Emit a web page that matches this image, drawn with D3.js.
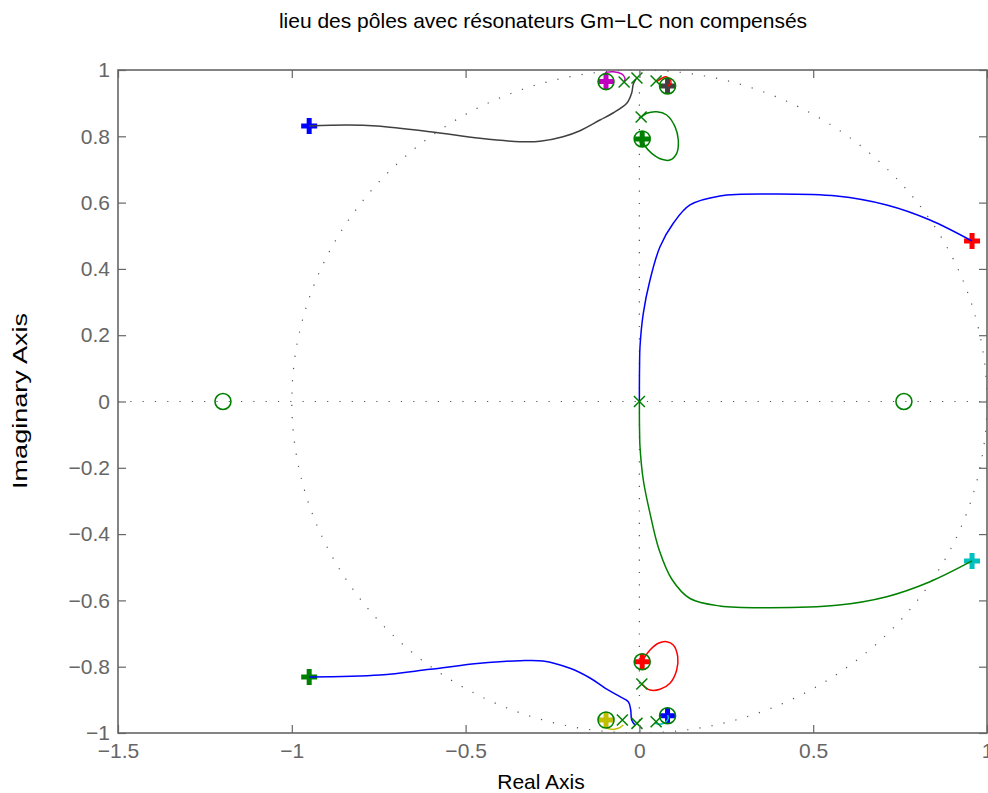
<!DOCTYPE html>
<html>
<head>
<meta charset="utf-8">
<script src="https://cdn.jsdelivr.net/npm/d3@7"></script>
<style>
  html, body { margin: 0; padding: 0; background: #fff; }
  svg { display: block; font-family: "Liberation Sans", Arial, Helvetica, sans-serif; }
</style>
</head>
<body>
<svg id="chart" width="988" height="793"></svg>
<script>
// ---------- data ----------
const titleText = "lieu des pôles avec résonateurs Gm−LC non compensés";
const xLabelText = "Real Axis";
const yLabelText = "Imaginary Axis";

const xTicks = [-1.5, -1, -0.5, 0, 0.5, 1];
const xTickLabels = ["−1.5", "−1", "−0.5", "0", "0.5", "1"];
const yTicks = [-1, -0.8, -0.6, -0.4, -0.2, 0, 0.2, 0.4, 0.6, 0.8, 1];
const yTickLabels = ["−1", "−0.8", "−0.6", "−0.4", "−0.2", "0", "0.2", "0.4", "0.6", "0.8", "1"];

// open-loop poles (x)
const polesRe = [0, -0.044, -0.007, 0.048, 0.005, -0.049, -0.007, 0.048, 0.007];
const polesIm = [0, 0.964, 0.976, 0.967, 0.858, -0.961, -0.971, -0.966, -0.852];

// zeros (o)
const zerosRe = [-1.198, 0.761, -0.096, 0.081, 0.008, -0.096, 0.081, 0.008];
const zerosIm = [0, 0, 0.965, 0.952, 0.792, -0.961, -0.948, -0.785];

// current-gain closed-loop poles (+)
const gainRe = [-0.950, -0.950, 0.957, 0.957, -0.096, 0.081, 0.008, 0.008, -0.096, 0.081];
const gainIm = [0.831, -0.831, 0.484, -0.481, 0.965, 0.952, 0.792, -0.785, -0.961, -0.948];
const gainColors = ["#0000ff", "#008000", "#ff0000", "#00bfbf", "#bf00bf", "#404040", "#008000", "#ff0000", "#bfbf00", "#0000ff"];

// locus branches
const branchBlueTopRe = [0, 0, 0.0005, 0.0017, 0.0112, 0.0305, 0.0593, 0.0975, 0.1456, 0.2319, 0.3757, 0.5676, 0.7115, 0.8360, 0.957];
const branchBlueTopIm = [0, 0.05, 0.11, 0.1653, 0.2661, 0.3665, 0.4670, 0.5376, 0.5928, 0.6199, 0.6259, 0.6199, 0.5928, 0.5475, 0.484];

const branchGreenBotRe = [0, 0, 0.0005, 0.0017, 0.0112, 0.0305, 0.0564, 0.0938, 0.1456, 0.2319, 0.3757, 0.5676, 0.7115, 0.8360, 0.957];
const branchGreenBotIm = [0, -0.05, -0.09, -0.1364, -0.2368, -0.3373, -0.4465, -0.5370, -0.5943, -0.6169, -0.6220, -0.6148, -0.5888, -0.5436, -0.481];

const branchGrayRe = [-0.950, -0.8412, -0.7549, -0.6024, -0.4586, -0.3435, -0.2860, -0.2198, -0.1709, -0.1134, -0.0759, -0.0357, -0.0222, -0.0175, -0.0098];
const branchGrayIm = [0.831, 0.8341, 0.8311, 0.8139, 0.7940, 0.7837, 0.7849, 0.7988, 0.8169, 0.8492, 0.8703, 0.9005, 0.9306, 0.9578, 0.9729];

const branchBlueBotRe = [-0.950, -0.7463, -0.6024, -0.4586, -0.3435, -0.2773, -0.1997, -0.1421, -0.0990, -0.0558, -0.0319, -0.0250, -0.0222, -0.0127];
const branchBlueBotIm = [-0.831, -0.8250, -0.8079, -0.7898, -0.7819, -0.7828, -0.8048, -0.8341, -0.8643, -0.8905, -0.9056, -0.9306, -0.9608, -0.9759];

const loopGreenRe = [0.0046, 0.0210, 0.0498, 0.0785, 0.1024, 0.1119, 0.1073, 0.0880, 0.0642, 0.0354, 0.0161, 0.0075];
const loopGreenIm = [0.8573, 0.8694, 0.8742, 0.8643, 0.8290, 0.7888, 0.7487, 0.7285, 0.7306, 0.7487, 0.7707, 0.7919];

const loopRedRe = [0.0066, 0.0305, 0.0593, 0.0880, 0.1073, 0.1102, 0.0975, 0.0785, 0.0544, 0.0305, 0.0161, 0.0075];
const loopRedIm = [-0.8522, -0.8703, -0.8682, -0.8501, -0.8100, -0.7698, -0.7345, -0.7246, -0.7294, -0.7496, -0.7698, -0.7858];

const arcMagentaRe = [-0.044, -0.0414, -0.0509, -0.0751, -0.0990, -0.096];
const arcMagentaIm = [0.964, 0.975, 0.988, 0.9949, 0.990, 0.966];

const arcRedTopRe = [0.0498, 0.0642, 0.0765, 0.0880, 0.0909, 0.0814];
const arcRedTopIm = [0.9647, 0.975, 0.9798, 0.9719, 0.9599, 0.9517];

const arcYellowRe = [-0.0463, -0.0607, -0.0797, -0.0990, -0.096];
const arcYellowIm = [-0.9759, -0.9858, -0.9889, -0.981, -0.961];

const arcCyanRe = [0.0449, 0.0593, 0.0737, 0.0831, 0.0814];
const arcCyanIm = [-0.9707, -0.9738, -0.9689, -0.9557, -0.9457];

const branches = [
  {re: branchBlueTopRe, im: branchBlueTopIm, color: "#0000ff"},
  {re: branchGreenBotRe, im: branchGreenBotIm, color: "#008000"},
  {re: branchGrayRe, im: branchGrayIm, color: "#404040"},
  {re: branchBlueBotRe, im: branchBlueBotIm, color: "#0000ff"},
  {re: loopGreenRe, im: loopGreenIm, color: "#008000"},
  {re: loopRedRe, im: loopRedIm, color: "#ff0000"},
  {re: arcMagentaRe, im: arcMagentaIm, color: "#bf00bf"},
  {re: arcRedTopRe, im: arcRedTopIm, color: "#ff0000"},
  {re: arcYellowRe, im: arcYellowIm, color: "#bfbf00"},
  {re: arcCyanRe, im: arcCyanIm, color: "#00bfbf"}
];

// ---------- layout ----------
const svg = d3.select("#chart");
const L = 118, T = 70, R = 987, B = 733;
const W = R - L, H = B - T;
const axisColor = "#666";
const fontSize = 21;

const x = d3.scaleLinear().domain([-1.5, 1]).range([0, W]);
const y = d3.scaleLinear().domain([-1, 1]).range([H, 0]);

svg.append("defs").append("clipPath").attr("id", "clip")
  .append("rect").attr("x", 0).attr("y", 0).attr("width", W).attr("height", H);

const g = svg.append("g").attr("transform", `translate(${L},${T})`);
const plot = g.append("g").attr("clip-path", "url(#clip)");

// dotted reference lines: unit circle, real and imaginary axes
const dotStyle = sel => sel.attr("fill", "none").attr("stroke", "#555")
  .attr("stroke-width", 1.2).attr("stroke-dasharray", "1.2 11.1");
const circ = d3.range(0, 361, 1).map(a => [Math.cos(a * Math.PI / 180), Math.sin(a * Math.PI / 180)]);
plot.append("path").datum(circ).attr("d", d3.line().x(d => x(d[0])).y(d => y(d[1]))).call(dotStyle);
plot.append("line").attr("x1", x(-1.5)).attr("x2", x(1)).attr("y1", y(0)).attr("y2", y(0)).call(dotStyle);
plot.append("line").attr("x1", x(0)).attr("x2", x(0)).attr("y1", y(-1)).attr("y2", y(1)).call(dotStyle);

// + markers (current gain)
const plusSize = 8;
plot.selectAll("path.plus").data(gainRe.map((r, i) => ({re: r, im: gainIm[i], c: gainColors[i]})))
  .enter().append("path").attr("class", "plus")
  .attr("d", d => {
    const cx = x(d.re), cy = y(d.im);
    return `M${cx - plusSize},${cy}H${cx + plusSize}M${cx},${cy - plusSize}V${cy + plusSize}`;
  })
  .attr("stroke", d => d.c).attr("stroke-width", 5).attr("fill", "none");

// locus branches
const line = d3.line().curve(d3.curveCatmullRom.alpha(0.5));
branches.forEach(b => {
  const pts = b.re.map((r, i) => [x(r), y(b.im[i])]);
  plot.append("path").attr("d", line(pts)).attr("fill", "none")
    .attr("stroke", b.color).attr("stroke-width", 1.5);
});

// poles (x)
const xs = 5.5;
plot.selectAll("path.pole").data(polesRe.map((r, i) => ({re: r, im: polesIm[i]})))
  .enter().append("path").attr("class", "pole")
  .attr("d", d => {
    const cx = x(d.re), cy = y(d.im);
    return `M${cx - xs},${cy - xs}L${cx + xs},${cy + xs}M${cx - xs},${cy + xs}L${cx + xs},${cy - xs}`;
  })
  .attr("stroke", "#008000").attr("stroke-width", 1.5).attr("fill", "none");

// zeros (o)
plot.selectAll("circle.zero").data(zerosRe.map((r, i) => ({re: r, im: zerosIm[i]})))
  .enter().append("circle").attr("class", "zero")
  .attr("cx", d => x(d.re)).attr("cy", d => y(d.im)).attr("r", 8)
  .attr("stroke", "#008000").attr("stroke-width", 1.6).attr("fill", "none");

// ---------- axes ----------
const styleAxis = sel => {
  sel.selectAll(".domain").remove();
  sel.selectAll(".tick line").attr("stroke", axisColor).attr("stroke-width", 1.2);
  sel.selectAll(".tick text").attr("fill", axisColor).attr("font-size", fontSize)
    .attr("font-family", "'Liberation Sans', Arial, sans-serif");
};
g.append("g").attr("transform", `translate(0,${H})`)
  .call(d3.axisBottom(x).tickValues(xTicks).tickFormat((d, i) => xTickLabels[i]).tickSizeInner(-8).tickSizeOuter(0).tickPadding(10))
  .call(styleAxis);
g.append("g")
  .call(d3.axisTop(x).tickValues(xTicks).tickFormat("").tickSizeInner(-8).tickSizeOuter(0))
  .call(styleAxis);
g.append("g")
  .call(d3.axisLeft(y).tickValues(yTicks).tickFormat((d, i) => yTickLabels[i]).tickSizeInner(-8).tickSizeOuter(0).tickPadding(8))
  .call(styleAxis);
g.append("g").attr("transform", `translate(${W},0)`)
  .call(d3.axisRight(y).tickValues(yTicks).tickFormat("").tickSizeInner(-8).tickSizeOuter(0))
  .call(styleAxis);

g.append("rect").attr("x", 0).attr("y", 0).attr("width", W).attr("height", H)
  .attr("fill", "none").attr("stroke", axisColor).attr("stroke-width", 1.6);

// ---------- labels ----------
svg.append("text").attr("x", 543).attr("y", 28).attr("text-anchor", "middle")
  .attr("font-size", fontSize).attr("fill", "#000").text(titleText);
svg.append("text").attr("x", 541).attr("y", 789).attr("text-anchor", "middle")
  .attr("font-size", fontSize).attr("fill", "#000").text(xLabelText);
svg.append("text").attr("transform", `translate(27,401) rotate(-90)`).attr("text-anchor", "middle")
  .attr("font-size", fontSize).attr("fill", "#000")
  .attr("textLength", 176).attr("lengthAdjust", "spacingAndGlyphs").text(yLabelText);
</script>
</body>
</html>
